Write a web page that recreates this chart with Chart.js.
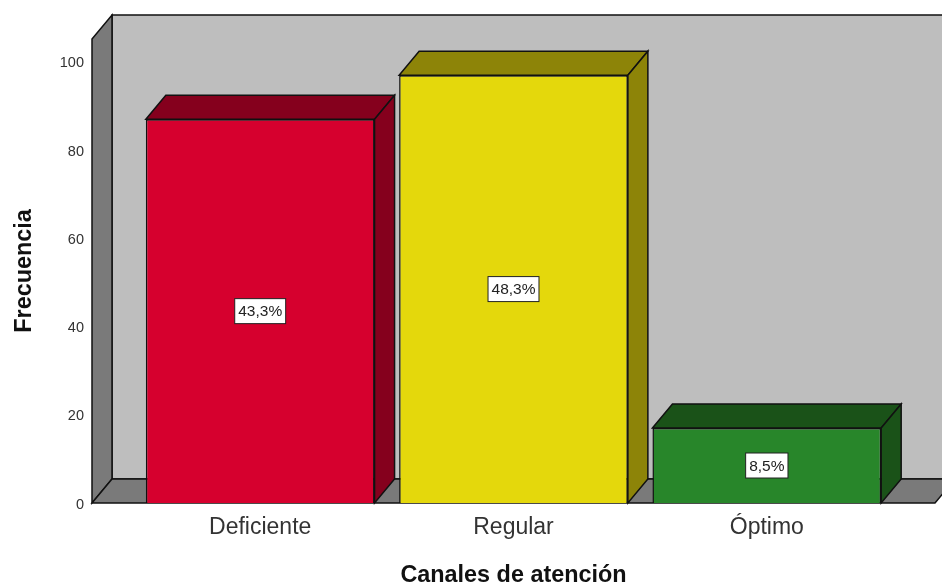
<!DOCTYPE html>
<html>
<head>
    <title>Canales de atención</title>
    <script src="https://cdn.jsdelivr.net/npm/chart.js"></script>
    <style>
        html, body { margin: 0; padding: 0; background: #fff; overflow: hidden; }
        #wrap { width: 942px; height: 584px; }
    </style>
</head>
<body>
    <div id="wrap"><canvas id="barChart" width="942" height="584"></canvas></div>

    <script>
        // Values
        const categories = ['Deficiente', 'Regular', 'Óptimo'];
        const frequencies = [87, 97, 17];
        const percentLabels = ['43,3%', '48,3%', '8,5%'];
        const frontColors = ['#d6002e', '#e4d80c', '#28862a'];
        const shadeColors = ['#85001d', '#8d8408', '#1a5218'];
        const yTicks = [0, 20, 40, 60, 80, 100];

        // Depth of the fake 3D box
        const depthX = 20;
        const depthY = -24;

        function poly(ctx, pts, fill) {
            ctx.beginPath();
            pts.forEach((p, i) => i ? ctx.lineTo(p[0], p[1]) : ctx.moveTo(p[0], p[1]));
            ctx.closePath();
            ctx.fillStyle = fill;
            ctx.fill();
            ctx.stroke();
        }

        // Walls, floor and the top and side faces of the bars
        const box3d = {
            id: 'box3d',
            beforeDatasetsDraw(chart) {
                const ctx = chart.ctx;
                const { left, right, top, bottom } = chart.chartArea;
                ctx.save();
                ctx.strokeStyle = '#111';
                ctx.lineWidth = 1.5;
                ctx.lineJoin = 'miter';
                poly(ctx, [[left + depthX, top + depthY], [right + depthX, top + depthY],
                           [right + depthX, bottom + depthY], [left + depthX, bottom + depthY]], '#bebebe');
                poly(ctx, [[left, top], [left + depthX, top + depthY],
                           [left + depthX, bottom + depthY], [left, bottom]], '#7a7a7a');
                poly(ctx, [[left, bottom], [left + depthX, bottom + depthY],
                           [right + depthX, bottom + depthY], [right, bottom]], '#7a7a7a');

                chart.getDatasetMeta(0).data.forEach((bar, i) => {
                    const x0 = bar.x - bar.width / 2;
                    const x1 = bar.x + bar.width / 2;
                    poly(ctx, [[x0, bar.y], [x0 + depthX, bar.y + depthY],
                               [x1 + depthX, bar.y + depthY], [x1, bar.y]], shadeColors[i]);
                    poly(ctx, [[x1, bar.y], [x1 + depthX, bar.y + depthY],
                               [x1 + depthX, bottom + depthY], [x1, bottom]], shadeColors[i]);
                });
                ctx.restore();
            },
            afterDatasetsDraw(chart) {
                const ctx = chart.ctx;
                ctx.save();
                // percentage boxes in the middle of each bar
                ctx.font = '15.5px "Liberation Sans", Arial, sans-serif';
                ctx.textAlign = 'center';
                ctx.textBaseline = 'middle';
                chart.getDatasetMeta(0).data.forEach((bar, i) => {
                    const midY = (bar.y + chart.chartArea.bottom) / 2;
                    const w = ctx.measureText(percentLabels[i]).width + 7;
                    ctx.fillStyle = '#fff';
                    ctx.strokeStyle = '#222';
                    ctx.lineWidth = 1;
                    ctx.fillRect(bar.x - w / 2, midY - 12.5, w, 25);
                    ctx.strokeRect(bar.x - w / 2, midY - 12.5, w, 25);
                    ctx.fillStyle = '#222';
                    ctx.fillText(percentLabels[i], bar.x, midY + 1);
                });
                ctx.restore();
            }
        };

        new Chart(document.getElementById('barChart').getContext('2d'), {
            type: 'bar',
            data: {
                datasets: [{
                    label: 'Frecuencia',
                    data: frequencies.map((v, i) => ({ x: i, y: v })),
                    backgroundColor: frontColors,
                    borderColor: '#111',
                    borderWidth: 1.5,
                    barPercentage: 0.903,
                    categoryPercentage: 1
                }]
            },
            options: {
                responsive: false,
                animation: false,
                layout: { padding: { top: 39, right: 7, left: 0, bottom: 0 } },
                plugins: { legend: { display: false }, tooltip: { enabled: false } },
                scales: {
                    x: {
                        type: 'linear',
                        offset: false,
                        min: -0.664,
                        max: 2.664,
                        grid: { display: false },
                        border: { display: false },
                        afterBuildTicks(axis) { axis.ticks = categories.map((c, i) => ({ value: i })); },
                        afterFit(axis) { axis.height = 81; },
                        ticks: {
                            callback: value => categories[value],
                            autoSkip: false,
                            maxRotation: 0,
                            padding: 3,
                            color: '#333',
                            font: { family: '"Liberation Sans", Arial, sans-serif', size: 23 }
                        },
                        title: {
                            display: true,
                            text: 'Canales de atención',
                            color: '#111',
                            padding: { top: 0, bottom: -6 },
                            font: { family: '"Liberation Sans", Arial, sans-serif', size: 23.4, weight: 'bold' }
                        }
                    },
                    y: {
                        min: 0,
                        max: 105.2,
                        grid: { display: false },
                        border: { display: false },
                        afterBuildTicks(axis) { axis.ticks = yTicks.map(v => ({ value: v })); },
                        afterFit(axis) { axis.width = 92; },
                        ticks: {
                            // empty first line nudges the number down to where the reference has it
                            callback: value => ['', String(value)],
                            padding: 0,
                            color: '#333',
                            font: { family: '"Liberation Sans", Arial, sans-serif', size: 14.5, lineHeight: '3px' }
                        },
                        title: {
                            display: true,
                            text: 'Frecuencia',
                            color: '#111',
                            padding: { top: 11, bottom: 0 },
                            font: { family: '"Liberation Sans", Arial, sans-serif', size: 23.4, weight: 'bold' }
                        }
                    }
                }
            },
            plugins: [box3d]
        });
    </script>
</body>
</html>
